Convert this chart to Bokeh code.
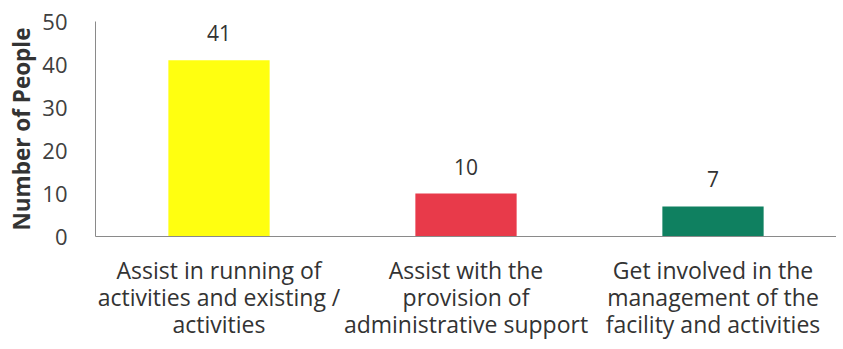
from bokeh.plotting import figure
from bokeh.models import ColumnDataSource, Range1d, FactorRange
from bokeh.embed import file_html
from bokeh.resources import INLINE
from bokeh.core.properties import value

categories = [
    "Assist in running of\nactivities and existing /\nactivities",
    "Assist with the\nprovision of\nadministrative support",
    "Get involved in the\nmanagement of the\nfacility and activities",
]
counts = [41, 10, 7]
colors = ["#FFFF10", "#E83A4A", "#0F8060"]
y_ticks = [0, 10, 20, 30, 40, 50]

FONT = "Open Sans"

src = ColumnDataSource(dict(cat=categories, val=counts, col=colors,
                            lab=[str(v) for v in counts]))

p = figure(width=836, height=342, output_backend="svg", toolbar_location=None,
           x_range=FactorRange(factors=categories, range_padding=0),
           y_range=Range1d(0, 50),
           min_border_left=95, min_border_right=0, min_border_top=21,
           min_border_bottom=98)
p.outline_line_color = None
p.grid.visible = False

p.vbar(x="cat", top="val", width=0.41, fill_color="col", line_color=None, source=src)
p.text(x="cat", y="val", text="lab", source=src, text_align="center",
       text_baseline="middle", y_offset=-27, text_font=value(FONT),
       text_font_size="21px", text_color="#333333")

ya = p.yaxis[0]
ya.ticker = y_ticks
ya.axis_label = "Number of People"
ya.axis_label_text_font = FONT
ya.axis_label_text_font_style = "bold"
ya.axis_label_text_font_size = "22.5px"
ya.axis_label_text_color = "#333333"
ya.axis_label_standoff = 2
ya.major_label_text_font = FONT
ya.major_label_text_font_size = "22px"
ya.major_label_text_color = "#404040"
ya.major_label_standoff = 22
ya.major_tick_line_color = None
ya.minor_tick_line_color = None
ya.axis_line_color = "#8a8a8a"

xa = p.xaxis[0]
xa.major_label_text_font = FONT
xa.major_label_text_font_size = "23px"
xa.major_label_text_line_height = 0.845
xa.major_label_text_color = "#333333"
xa.major_label_standoff = 11
xa.major_tick_line_color = None
xa.minor_tick_line_color = None
xa.axis_line_color = "#8a8a8a"
xa.major_label_orientation = "horizontal"

open("out.html", "w").write(file_html(p, INLINE))
